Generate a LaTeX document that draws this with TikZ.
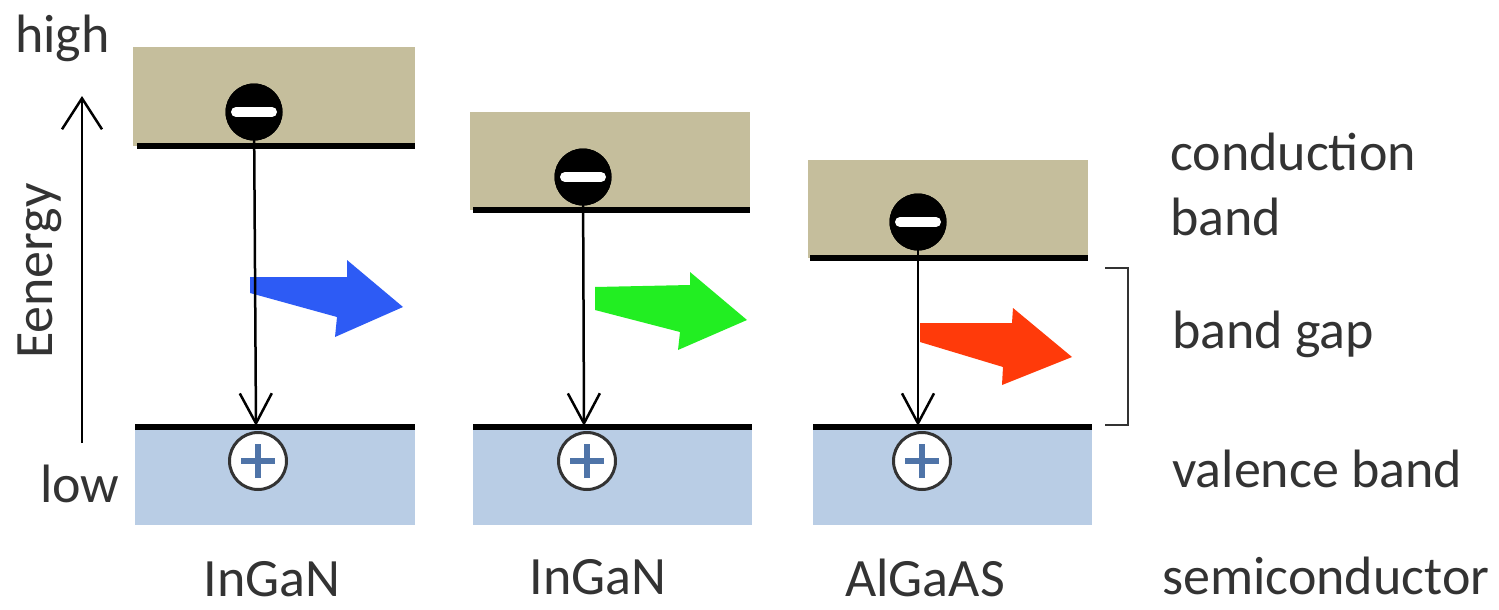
\documentclass[tikz,border=0pt]{standalone}
\usepackage{fontspec}
\setmainfont{Carlito}
\usetikzlibrary{arrows.meta}
\definecolor{tanband}{HTML}{C5BE9C}
\definecolor{valband}{HTML}{B9CDE5}
\definecolor{bluephoton}{HTML}{2D5BF5}
\definecolor{greenphoton}{HTML}{22EE22}
\definecolor{redphoton}{HTML}{FF3A0A}
\definecolor{plusblue}{HTML}{4F74A8}
\definecolor{txt}{HTML}{333333}
\tikzset{
  bandline/.style={line width=6pt, black},
  electron/.style={circle, fill=black, minimum size=57pt, inner sep=0pt},
  hole/.style={circle, draw=txt, line width=3pt, fill=white, minimum size=57pt, inner sep=0pt},
  minusbar/.style={white, line width=10pt, line cap=round},
  plusbar/.style={plusblue, line width=6pt},
  trans/.style={line width=2.5pt, black, -{Straight Barb[length=30pt, width=32pt, line width=2.5pt]}},
  lbl/.style={font=\fontsize{54}{60}\selectfont, text=txt, inner sep=0pt},
}
\begin{document}
\begin{tikzpicture}[x=1pt, y=-1pt]
\useasboundingbox (0,0) rectangle (1499,610);
% bands
\fill[tanband] (133,47) rectangle (415,146);
\fill[valband] (135,427) rectangle (415,525);
\fill[tanband] (470,112) rectangle (750,210);
\fill[valband] (473,427) rectangle (752,525);
\fill[tanband] (808,160) rectangle (1088,258);
\fill[valband] (813,427) rectangle (1092,525);
\draw[bandline] (137,146) -- (415,146);
\draw[bandline] (135,427) -- (415,427);
\draw[bandline] (473,210) -- (750,210);
\draw[bandline] (473,427) -- (752,427);
\draw[bandline] (810,258) -- (1088,258);
\draw[bandline] (813,427) -- (1092,427);
% photons
\fill[bluephoton] (250,277) -- (347,277) -- (347,260) -- (403,307) -- (335,337) -- (337,317) -- (250,293) -- cycle;
\fill[greenphoton] (595,287) -- (690,285) -- (690,272) -- (747,320) -- (678,350) -- (680,332) -- (595,310) -- cycle;
\fill[redphoton] (920,323) -- (1012,323) -- (1013,308) -- (1072,357) -- (1002,385) -- (1003,367) -- (920,342) -- cycle;
% electrons and holes
\node[electron] (e1) at (254,112) {};
\node[electron] (e2) at (583,177) {};
\node[electron] (e3) at (918,222) {};
\coordinate (t1) at (256,426);
\coordinate (t2) at (584,426);
\coordinate (t3) at (918,426);
\draw[trans] (e1.center) -- (t1);
\draw[trans] (e2.center) -- (t2);
\draw[trans] (e3.center) -- (t3);
\node[electron] at (e1) {};
\node[electron] at (e2) {};
\node[electron] at (e3) {};
\foreach \e in {e1,e2,e3}{
  \draw[minusbar] ([xshift=-18pt]\e.center) -- ([xshift=18pt]\e.center);
}
\node[hole] (h1) at (258,461) {};
\node[hole] (h2) at (587,461) {};
\node[hole] (h3) at (922,461) {};
\foreach \h in {h1,h2,h3}{
  \draw[plusbar] ([xshift=-17pt]\h.center) -- ([xshift=17pt]\h.center);
  \draw[plusbar] ([yshift=-17pt]\h.center) -- ([yshift=17pt]\h.center);
}
% energy axis
\coordinate (a0) at (82,443);
\coordinate (a1) at (82,96);
\draw[line width=2.5pt, black, -{Straight Barb[length=31pt, width=40pt, line width=2.5pt]}] (a0) -- (a1);
\node[lbl, rotate=90, anchor=base] (en) at (52,271) {Eenergy};
\node[lbl, anchor=base west] (hi) at (15,53) {high};
\node[lbl, anchor=base west] (lo) at (40,502) {low};
% bracket
\coordinate (b0) at (1105,268);
\coordinate (b1) at (1128,268);
\coordinate (b2) at (1128,425);
\coordinate (b3) at (1105,425);
\draw[line width=2.5pt, txt] (b0) -- (b1) -- (b2) -- (b3);
% right labels
\node[lbl, anchor=base west] (cb1) at (1170,170) {conduction};
\node[lbl, anchor=base west] (cb2) at (1170,235) {band};
\node[lbl, anchor=base west] (bg) at (1172,348) {band gap};
\node[lbl, anchor=base west] (vb) at (1172,487) {valence band};
\node[lbl, anchor=base west] (sc) at (1162,594) {semiconductor};
% bottom labels
\node[lbl, anchor=base] (m1) at (272,596) {InGaN};
\node[lbl, anchor=base] (m2) at (598,594) {InGaN};
\node[lbl, anchor=base] (m3) at (925,596) {AlGaAS};
\end{tikzpicture}
\end{document}
